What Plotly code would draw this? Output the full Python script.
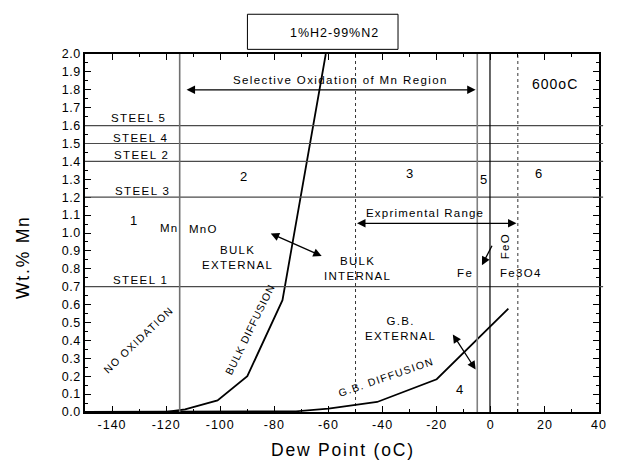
import plotly.graph_objects as go

# Mn oxidation map, 1%H2-99%N2 at 600oC
bulk_dp = [-150, -120, -113, -110, -101, -90, -77, -61]
bulk_mn = [0.0, 0.0, 0.015, 0.028, 0.065, 0.2, 0.625, 2.0]

gb_dp = [-150, -72, -60, -42, -20, 6.5]
gb_mn = [0.0, 0.004, 0.019, 0.056, 0.183, 0.578]

steel_names = ["STEEL 1", "STEEL 3", "STEEL 2", "STEEL 4", "STEEL 5"]
steel_mn = [0.7, 1.2, 1.4, 1.5, 1.6]

x_tickvals = [-140, -120, -100, -80, -60, -40, -20, 0, 20, 40]
x_ticktext = ["-140", "-120", "-100", "-80", "-60", "-40", "-20", "0", "20", "40"]
y_tickvals = [round(0.1 * i, 1) for i in range(21)]
y_ticktext = [f"{v:.1f}" for v in y_tickvals]

FONT = "Liberation Sans, Arial, sans-serif"


def sp(s, ls=1.2):
    """Wrap each line of s in a letter-spaced span."""
    return "<br>".join(f"<span style='letter-spacing:{ls}px'>{p}</span>"
                       for p in s.split("<br>"))


fig = go.Figure()
fig.add_trace(go.Scatter(x=bulk_dp, y=bulk_mn, mode="lines",
                         line=dict(color="black", width=1.8), hoverinfo="skip"))
fig.add_trace(go.Scatter(x=gb_dp, y=gb_mn, mode="lines",
                         line=dict(color="black", width=1.8), hoverinfo="skip"))

shapes = []
# steel composition lines
for v in steel_mn:
    shapes.append(dict(type="line", xref="paper", yref="y", x0=0, x1=1.008,
                       y0=v, y1=v, line=dict(color="#4a4a4a", width=1.2)))
# region boundaries
shapes.append(dict(type="line", xref="x", yref="y", x0=-115, x1=-115, y0=0, y1=2,
                   line=dict(color="#707070", width=1.6)))
shapes.append(dict(type="line", xref="x", yref="y", x0=-5, x1=-5, y0=0, y1=2,
                   line=dict(color="#808080", width=1.6)))
shapes.append(dict(type="line", xref="x", yref="y", x0=-0.3, x1=-0.3, y0=0, y1=2,
                   line=dict(color="black", width=1.2)))
for xv in [-50, 10]:
    shapes.append(dict(type="line", xref="x", yref="y", x0=xv, x1=xv, y0=0, y1=2,
                       line=dict(color="black", width=0.8, dash="dot")))
# atmosphere label box
shapes.append(dict(type="rect", xref="paper", yref="paper", x0=0.316, x1=0.609,
                   y0=1.013, y1=1.111, line=dict(color="black", width=1),
                   fillcolor="white"))

ann = []


def txt(x, y, s, size=11.5, angle=0, xref="x", yref="y", ls=1.2):
    ann.append(dict(x=x, y=y, xref=xref, yref=yref, text=sp(s, ls), showarrow=False,
                    textangle=angle, font=dict(family=FONT, size=size, color="black"),
                    xanchor="center", yanchor="middle"))


def arrow(x0, y0, x1, y1, both=False):
    ann.append(dict(x=x1, y=y1, ax=x0, ay=y0, xref="x", yref="y", axref="x", ayref="y",
                    text="", showarrow=True, arrowhead=2, arrowsize=1.3, arrowwidth=1.3,
                    arrowcolor="black", arrowside="end+start" if both else "end"))


txt(0.486, 1.058, "1%H2-99%N2", size=12.5, xref="paper", yref="paper", ls=1.0)
txt(-55.6, 1.855, "Selective Oxidation of Mn Region", size=11.5, ls=1.4)
arrow(-113, 1.8, -5.6, 1.8, both=True)
txt(23.6, 1.832, "600oC", size=14, ls=1.0)

steel_pos = {"STEEL 5": (-130.4, 1.643), "STEEL 4": (-129.5, 1.53),
             "STEEL 2": (-129.1, 1.436), "STEEL 3": (-128.7, 1.234),
             "STEEL 1": (-129.5, 0.736)}
for name in steel_names:
    px, py = steel_pos[name]
    txt(px, py, name, size=11.5, ls=1.4)

txt(-132, 1.072, "1", size=13)
txt(-91.3, 1.318, "2", size=13)
txt(-29.8, 1.335, "3", size=13)
txt(-2.5, 1.297, "5", size=13)
txt(17.8, 1.335, "6", size=13)
txt(-11.3, 0.127, "4", size=13)

txt(-118.9, 1.027, "Mn", size=11.5)
txt(-106.2, 1.022, "MnO", size=11.5)
txt(-93.5, 0.862, "BULK<br>EXTERNAL", size=11.5, ls=1.3)
arrow(-81.9, 1.001, -62.5, 0.871, both=True)
txt(-49.3, 0.804, "BULK<br>INTERNAL", size=11.5, ls=1.3)

txt(-24.4, 1.11, "Exprimental Range", size=11.5, ls=1.2)
arrow(-50, 1.054, 9.5, 1.054, both=True)

txt(5.35, 0.927, "FeO", size=11.5, angle=-90, ls=1.3)
arrow(0.73, 0.937, -3.27, 0.82)
txt(-9.6, 0.777, "Fe", size=11.5, ls=1.5)
txt(11.2, 0.777, "Fe3O4", size=11.5, ls=1.3)

txt(-33.3, 0.464, "G.B.<br>EXTERNAL", size=11.5, ls=1.3)
arrow(-14.4, 0.442, -5.6, 0.237, both=True)
txt(-38.9, 0.196, "G.B. DIFFUSION", size=10.5, angle=-19, ls=1.4)
txt(-89.0, 0.4625, "BULK DIFFUSION", size=10.5, angle=-64, ls=0.9)
txt(-130.4, 0.401, "NO OXIDATION", size=10.5, angle=-43.5, ls=1.3)

# axis titles
txt(-0.1207, 0.433, "Wt.% Mn", size=17.5, angle=-90, xref="paper", yref="paper", ls=1.8)
txt(0.502, -0.106, "Dew Point (oC)", size=17.5, xref="paper", yref="paper", ls=1.8)

fig.update_layout(
    width=617, height=466,
    margin=dict(l=85, r=10, t=54, b=54),
    paper_bgcolor="white", plot_bgcolor="white",
    showlegend=False,
    shapes=shapes, annotations=ann,
    font=dict(family=FONT, size=12, color="black"),
)
fig.update_xaxes(
    range=[-150, 40], showgrid=False, zeroline=False,
    showline=True, linecolor="black", linewidth=1.5, mirror="allticks",
    tickvals=x_tickvals, ticktext=[sp(t, 1.0) for t in x_ticktext],
    ticks="inside", ticklen=6, tickwidth=1.2, tickcolor="black",
    tickfont=dict(size=12.5),
    minor=dict(dtick=10, tick0=-150, ticks="inside", ticklen=3.5, tickwidth=1,
               tickcolor="black"),
)
fig.update_yaxes(
    range=[0, 2.0], showgrid=False, zeroline=False,
    showline=True, linecolor="black", linewidth=1.5, mirror="allticks",
    tickvals=y_tickvals, ticktext=[sp(t, 0.5) for t in y_ticktext],
    ticks="inside", ticklen=6, tickwidth=1.2, tickcolor="black",
    tickfont=dict(size=12.5),
    minor=dict(dtick=0.05, tick0=0, ticks="inside", ticklen=3.5, tickwidth=1,
               tickcolor="black"),
)

fig.write_html("out.html")
